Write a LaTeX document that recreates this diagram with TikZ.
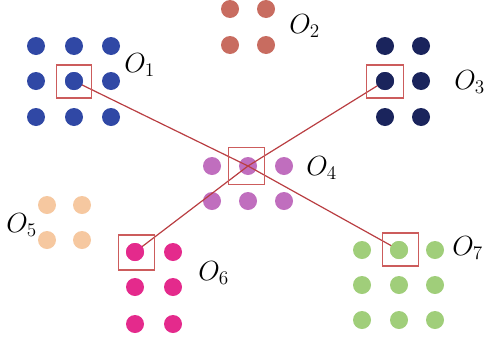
\documentclass[tikz,border=0pt]{standalone}
\definecolor{cBlue}{RGB}{48,72,165}
\definecolor{cSalmon}{RGB}{200,108,96}
\definecolor{cNavy}{RGB}{26,36,92}
\definecolor{cPurple}{RGB}{192,110,190}
\definecolor{cPeach}{RGB}{246,200,160}
\definecolor{cPink}{RGB}{228,42,140}
\definecolor{cGreen}{RGB}{160,206,122}
\definecolor{cLine}{RGB}{185,62,66}
\definecolor{cBox}{RGB}{204,92,92}
\begin{document}
\begin{tikzpicture}[x=0.75pt,y=-0.75pt,
  dot/.style={circle,inner sep=0pt,minimum size=13.5pt},
  selbox/.style={draw=cBox,line width=1.1pt,inner sep=0pt,minimum width=26pt,minimum height=25pt,fill=none},
  link/.style={draw=cLine,line width=0.9pt},
  lab/.style={anchor=base west,inner sep=0pt,font=\huge}]
\useasboundingbox (0,0) rectangle (484,343);
% O1 blue 3x3
\foreach \i/\x in {1/36,2/74,3/111}{\foreach \j/\y in {1/46,2/81,3/117}{\node[dot,fill=cBlue] (a\i\j) at (\x,\y) {};}}
% O2 salmon 2x2
\foreach \i/\x in {1/230,2/266}{\foreach \j/\y in {1/9,2/45}{\node[dot,fill=cSalmon] (b\i\j) at (\x,\y) {};}}
% O3 navy 2x3
\foreach \i/\x in {1/385,2/421}{\foreach \j/\y in {1/46,2/81,3/117}{\node[dot,fill=cNavy] (c\i\j) at (\x,\y) {};}}
% O4 purple 3x2
\foreach \i/\x in {1/212,2/248,3/284}{\foreach \j/\y in {1/166,2/201}{\node[dot,fill=cPurple] (d\i\j) at (\x,\y) {};}}
% O5 peach 2x2
\foreach \i/\x in {1/47,2/82}{\foreach \j/\y in {1/205,2/240}{\node[dot,fill=cPeach] (e\i\j) at (\x,\y) {};}}
% O6 pink 2x3
\foreach \i/\x in {1/135,2/173}{\foreach \j/\y in {1/252,2/287,3/324}{\node[dot,fill=cPink] (f\i\j) at (\x,\y) {};}}
% O7 green 3x3
\foreach \i/\x in {1/362,2/399,3/435}{\foreach \j/\y in {1/250,2/285,3/320}{\node[dot,fill=cGreen] (g\i\j) at (\x,\y) {};}}
% links
\draw[link] (a22.center) -- (d21.center) -- (g21.center);
\draw[link] (c12.center) -- (d21.center) -- (f11.center);
% redraw end dots on top
\node[dot,fill=cBlue] at (a22) {};
\node[dot,fill=cNavy] at (c12) {};
\node[dot,fill=cPink] at (f11) {};
\node[dot,fill=cGreen] at (g21) {};
% selection boxes
\node[selbox] (s1) at (74,81.5) {};
\node[selbox,minimum width=28pt] (s3) at (385,81.5) {};
\node[selbox,minimum width=27pt,minimum height=28pt] (s4) at (246.5,166) {};
\node[selbox,minimum width=27pt,minimum height=26pt] (s6) at (136.5,252.5) {};
\node[selbox,minimum width=27pt] (s7) at (400.5,249.5) {};
% labels
\node[lab] (l1) at (124,72) {$O_1$};
\node[lab] (l2) at (289,33) {$O_2$};
\node[lab] (l3) at (454,89) {$O_3$};
\node[lab] (l4) at (306,175) {$O_4$};
\node[lab] (l5) at (6,232) {$O_5$};
\node[lab] (l6) at (198,280) {$O_6$};
\node[lab] (l7) at (452,255) {$O_7$};
\end{tikzpicture}
\end{document}
